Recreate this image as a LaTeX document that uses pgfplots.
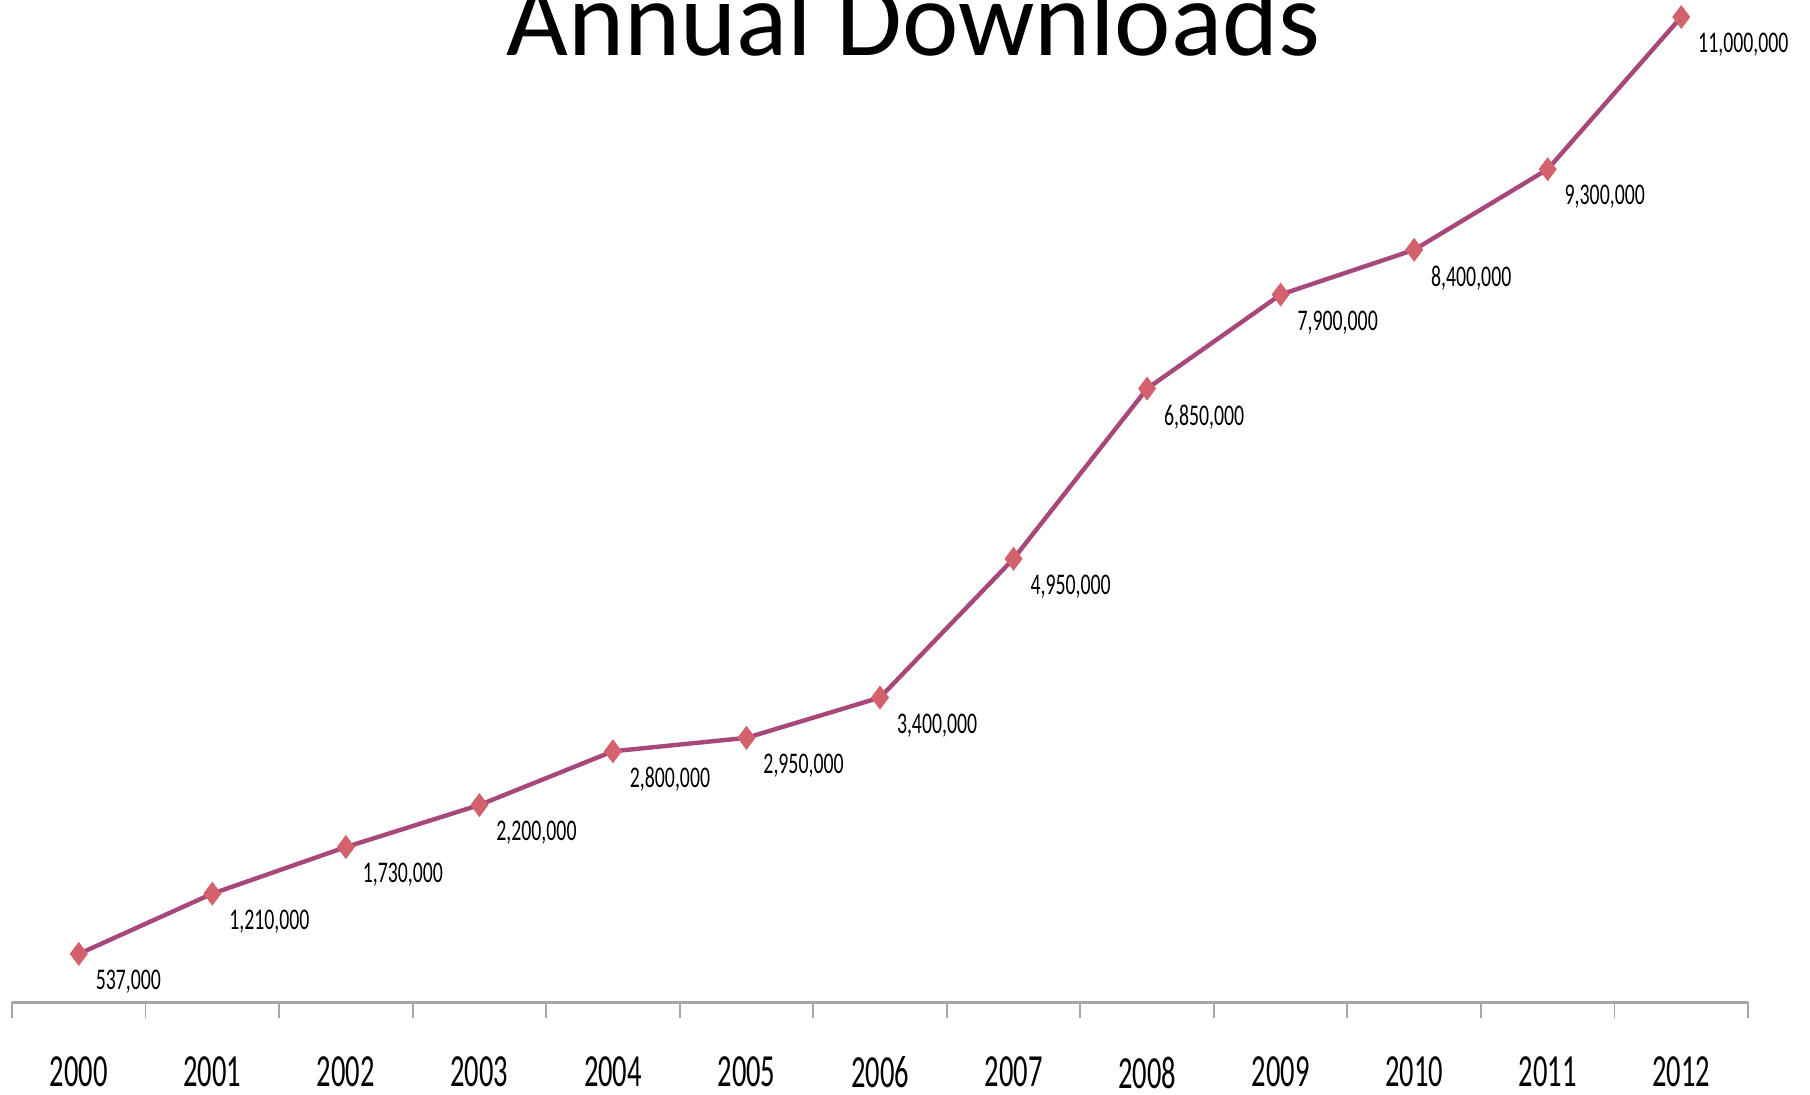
\documentclass[border=0pt]{standalone}
\usepackage{fontspec}
\setmainfont{Carlito}
\newfontfamily\condfont{Carlito}[FakeStretch=0.62]
\newfontfamily\labfont{Carlito}[FakeStretch=0.66]
\usepackage{pgfplots}
\pgfplotsset{compat=1.18}
\definecolor{linec}{HTML}{A8477A}
\definecolor{markc}{HTML}{D4626C}
\definecolor{axisgray}{HTML}{A6A6A6}
\begin{document}
\begin{tikzpicture}
\begin{axis}[
  at={(3pt,23pt)}, anchor=south west,
  scale only axis, width=434pt, height=246.25pt,
  xmin=-0.5, xmax=12.5, ymin=0, ymax=11000000,
  clip=false,
  axis x line*=bottom,
  hide y axis,
  xtick={0,...,12},
  xticklabels={2000,2001,2002,2003,2004,2005,2006,2007,2008,2009,2010,2011,2012},
  major tick length=0pt,
  minor xtick={-0.5,0.5,...,12.5},
  minor tick length=4pt,
  tick align=outside,
  x axis line style={draw=axisgray, line width=0.75pt},
  minor tick style={draw=axisgray, line width=0.45pt},
  xticklabel style={font=\condfont\fontsize{11.5}{12}\selectfont, anchor=north, inner sep=0pt, yshift=-13.5pt},
]
\addplot[color=linec, line width=1.1pt, mark=diamond*, mark size=2.1pt,
  mark options={fill=markc, draw=markc},
  nodes near coords={\pgfmathprintnumber[fixed, precision=0, 1000 sep={,}, assume math mode=true]{\pgfplotspointmeta}},
  every node near coord/.append style={anchor=north west, inner sep=0pt, xshift=3.7pt, yshift=-3.5pt, font=\labfont\fontsize{7.5}{8}\selectfont, text=black}]
table {
x y
0 537000
1 1210000
2 1730000
3 2200000
4 2800000
5 2950000
6 3400000
7 4950000
8 6850000
9 7900000
10 8400000
11 9300000
12 11000000
};
\end{axis}
\node[font=\fontsize{26.7}{30}\selectfont, anchor=base, inner sep=0pt] at (228.4pt,259.7pt) {Annual Downloads};
\pgfresetboundingbox
\path[use as bounding box] (0,0) rectangle (452.5pt,273.5pt);
\end{tikzpicture}
\end{document}
